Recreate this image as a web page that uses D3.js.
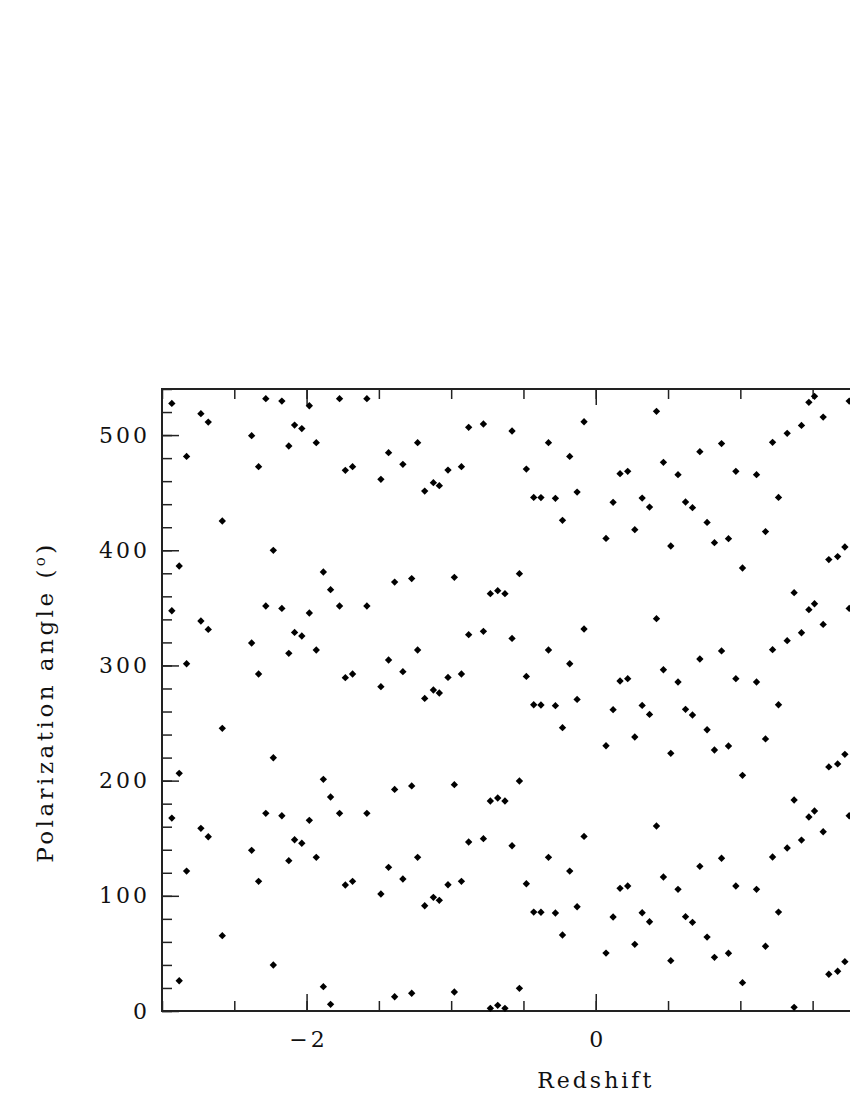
<!DOCTYPE html>
<html>
<head>
<meta charset="utf-8">
<script src="https://cdn.jsdelivr.net/npm/d3@7"></script>
<style>
  body { margin: 0; overflow: hidden; background: #fff; }
  text { font-family: "DejaVu Serif", serif; fill: #111; }
</style>
</head>
<body>
<svg id="chart" width="850" height="1100"></svg>
<script>
// redshift of each source, and its polarization angle with the +180 / +360 copies
const redshift = [
  -2.932, -2.881, -2.830, -2.731, -2.680, -2.583, -2.380, -2.332, -2.282, -2.230,
  -2.171, -2.123, -2.083, -2.033, -1.981, -1.933, -1.884, -1.834, -1.772, -1.732,
  -1.682, -1.583, -1.486, -1.433, -1.391, -1.334, -1.273, -1.232, -1.183, -1.123,
  -1.082, -1.022, -0.978, -0.929, -0.879, -0.777, -0.729, -0.678, -0.628, -0.579,
  -0.528, -0.480, -0.429, -0.379, -0.327, -0.279, -0.230, -0.180, -0.129, -0.081,
  0.071, 0.120, 0.168, 0.221, 0.270, 0.321, 0.372, 0.420, 0.468, 0.519,
  0.569, 0.621, 0.669, 0.720, 0.770, 0.821, 0.870, 0.918, 0.969, 1.015,
  1.112, 1.174, 1.223, 1.264, 1.324, 1.372, 1.423, 1.474, 1.513, 1.573,
  1.612, 1.673, 1.723, 1.753
];

const polAngle = [
  [167.5, 347.5, 527.5], [26.3, 206.3, 386.3], [121.5, 301.5, 481.5], [158.6, 338.6, 518.6],
  [151.3, 331.3, 511.3], [65.4, 245.4, 425.4], [139.5, 319.5, 499.5], [112.6, 292.6, 472.6],
  [171.6, 351.6, 531.6], [39.9, 219.9, 399.9], [169.5, 349.5, 529.5], [130.5, 310.5, 490.5],
  [148.7, 328.7, 508.7], [145.6, 325.6, 505.6], [165.5, 345.5, 525.5], [133.4, 313.4, 493.4],
  [21.1, 201.1, 381.1], [5.8, 185.8, 365.8], [171.6, 351.6, 531.6], [109.4, 289.4, 469.4],
  [112.6, 292.6, 472.6], [171.6, 351.6, 531.6], [101.6, 281.6, 461.6], [124.7, 304.7, 484.7],
  [12.4, 192.4, 372.4], [114.6, 294.6, 474.6], [15.4, 195.4, 375.4], [133.4, 313.4, 493.4],
  [91.4, 271.4, 451.4], [98.7, 278.7, 458.7], [96.1, 276.1, 456.1], [109.6, 289.6, 469.6],
  [16.5, 196.5, 376.5], [112.6, 292.6, 472.6], [146.7, 326.7, 506.7], [149.6, 329.6, 509.6],
  [2.3, 182.3, 362.3], [4.9, 184.9, 364.9], [2.3, 182.3, 362.3], [143.5, 323.5, 503.5],
  [19.7, 199.7, 379.7], [110.5, 290.5, 470.5], [85.9, 265.9, 445.9], [85.7, 265.7, 445.7],
  [133.4, 313.4, 493.4], [85.1, 265.1, 445.1], [66.0, 246.0, 426.0], [121.5, 301.5, 481.5],
  [90.5, 270.5, 450.5], [151.6, 331.6, 511.6], [50.3, 230.3, 410.3], [81.6, 261.6, 441.6],
  [106.5, 286.5, 466.5], [108.5, 288.5, 468.5], [57.9, 237.9, 417.9], [85.3, 265.3, 445.3],
  [77.5, 257.5, 437.5], [160.6, 340.6, 520.6], [116.3, 296.3, 476.3], [43.7, 223.7, 403.7],
  [105.6, 285.6, 465.6], [81.9, 261.9, 441.9], [77.0, 257.0, 437.0], [125.6, 305.6, 485.6],
  [64.2, 244.2, 424.2], [46.6, 226.6, 406.6], [132.6, 312.6, 492.6], [50.1, 230.1, 410.1],
  [108.5, 288.5, 468.5], [24.6, 204.6, 384.6], [105.6, 285.6, 465.6], [56.2, 236.2, 416.2],
  [133.7, 313.7, 493.7], [85.9, 265.9, 445.9], [141.5, 321.5, 501.5], [3.2, 183.2, 363.2],
  [148.4, 328.4, 508.4], [168.4, 348.4, 528.4], [173.6, 353.6, 533.6], [155.6, 335.6, 515.6],
  [31.9, 211.9, 391.9], [34.5, 214.5, 394.5], [42.8, 222.8, 402.8], [169.5, 349.5, 529.5]
];

const xMajor = [-2, 0, 2];
const xMinor = d3.range(-3, 3.001, 0.5);
const yMajor = [0, 100, 200, 300, 400, 500];
const yMinor = d3.range(0, 541, 20);

const width = 850;
const svg = d3.select("#chart");

// plot frame; the right part runs past the window edge like in the original
const plotLeft = 162, plotRight = 1029.5, plotTop = 389, plotBottom = 1011;

const x = d3.scaleLinear().domain([-3, 3]).range([plotLeft, plotRight]);
const y = d3.scaleLinear().domain([0, 540]).range([plotBottom, plotTop]);

const points = [];
redshift.forEach((z, i) => polAngle[i].forEach(a => points.push({ z, a })));

const axisColor = "#222";

function styleAxis(g, w) {
    g.select(".domain").remove();
    g.selectAll(".tick line").attr("stroke", axisColor).attr("stroke-width", w);
}

// minor ticks
svg.append("g")
    .attr("transform", `translate(0,${plotBottom})`)
    .call(d3.axisBottom(x).tickValues(xMinor).tickSize(-10).tickFormat(""))
    .call(g => styleAxis(g, 1.5));
svg.append("g")
    .attr("transform", `translate(0,${plotTop})`)
    .call(d3.axisTop(x).tickValues(xMinor).tickSize(-10).tickFormat(""))
    .call(g => styleAxis(g, 1.5));
svg.append("g")
    .attr("transform", `translate(${plotLeft},0)`)
    .call(d3.axisLeft(y).tickValues(yMinor).tickSize(-10).tickFormat(""))
    .call(g => styleAxis(g, 1.5));

// major ticks with labels (only the ones that fall inside the window)
const xMajorShown = xMajor.filter(v => x(v) < width);
svg.append("g")
    .attr("transform", `translate(0,${plotBottom})`)
    .call(d3.axisBottom(x).tickValues(xMajorShown).tickSize(-17).tickPadding(20).tickFormat(d3.format("d")))
    .call(g => styleAxis(g, 1.5))
    .call(g => g.selectAll(".tick text")
        .attr("font-size", 22).attr("letter-spacing", 3).attr("dx", 1.5)
        .attr("font-family", "DejaVu Serif").attr("fill", "#111"));
svg.append("g")
    .attr("transform", `translate(0,${plotTop})`)
    .call(d3.axisTop(x).tickValues(xMajorShown).tickSize(-16).tickFormat(""))
    .call(g => styleAxis(g, 1.5));
svg.append("g")
    .attr("transform", `translate(${plotLeft},0)`)
    .call(d3.axisLeft(y).tickValues(yMajor).tickSize(-17).tickPadding(12))
    .call(g => styleAxis(g, 1.5))
    .call(g => g.selectAll(".tick text")
        .attr("font-size", 22).attr("letter-spacing", 3)
        .attr("font-family", "DejaVu Serif").attr("fill", "#111"));

// frame
svg.append("rect")
    .attr("x", plotLeft).attr("y", plotTop)
    .attr("width", plotRight - plotLeft).attr("height", plotBottom - plotTop)
    .attr("fill", "none").attr("stroke", axisColor).attr("stroke-width", 2);

// data points as small diamonds
const diamond = d3.symbol().type(d3.symbolSquare).size(27);
svg.append("g")
    .selectAll("path")
    .data(points)
    .join("path")
    .attr("d", diamond)
    .attr("transform", d => `translate(${x(d.z)},${y(d.a)}) rotate(45)`)
    .attr("fill", "#000");

// axis titles
svg.append("text")
    .attr("x", (plotLeft + plotRight) / 2)
    .attr("y", 1088)
    .attr("text-anchor", "middle")
    .attr("font-size", 22)
    .attr("letter-spacing", 3)
    .text("Redshift");

const yTitle = svg.append("text")
    .attr("transform", `translate(53,${(plotTop + plotBottom) / 2 + 2}) rotate(-90)`)
    .attr("text-anchor", "middle")
    .attr("font-size", 23)
    .attr("letter-spacing", 3.5);
yTitle.append("tspan").text("Polarization angle (");
yTitle.append("tspan").attr("font-size", 15).attr("dy", -8).text("o");
yTitle.append("tspan").attr("dy", 8).text(")");
</script>
</body>
</html>
